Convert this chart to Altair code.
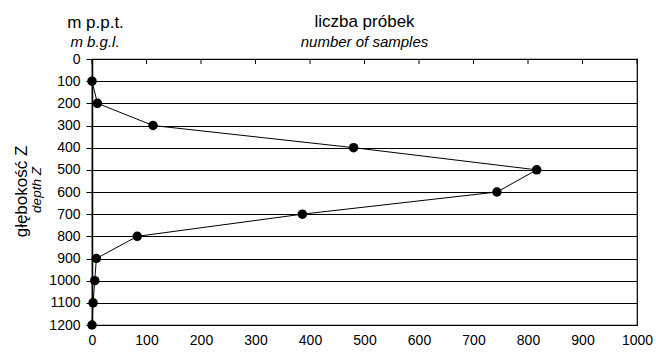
import altair as alt
import pandas as pd

depths = [100, 200, 300, 400, 500, 600, 700, 800, 900, 1000, 1100, 1200]
counts = [0, 10, 112, 480, 816, 743, 386, 83, 8, 5, 2, 0]
x_ticks = list(range(0, 1001, 100))
y_ticks = list(range(0, 1201, 100))

FONT = "Liberation Sans"

df = pd.DataFrame({"depth": depths, "count": counts})
ticks_df = pd.DataFrame({"x": x_ticks})
one = pd.DataFrame({"a": [0]})

xscale = alt.Scale(domain=[0, 1000], nice=False)
yscale = alt.Scale(domain=[0, 1200], reverse=True, nice=False)

xaxis = alt.Axis(orient="bottom", values=x_ticks, ticks=False, domain=False,
                 grid=False, labelPadding=8, labelFontSize=14, labelFont=FONT,
                 labelColor="black", title=None, labelFlush=False,
                 labelOverlap=False, format="d")
yaxis = alt.Axis(values=y_ticks, grid=True, gridColor="black", gridWidth=1,
                 gridOpacity=1, domainColor="black", domainWidth=1.5,
                 tickColor="black", tickSize=6, tickWidth=1, labelPadding=6,
                 labelFontSize=14, labelFont=FONT, labelColor="black",
                 title=None, labelFlush=False, labelOverlap=False, format="d")

base = alt.Chart(df)

line = base.mark_line(color="black", strokeWidth=1).encode(
    x=alt.X("count:Q", scale=xscale, axis=xaxis),
    y=alt.Y("depth:Q", scale=yscale, axis=yaxis),
    order="depth:Q",
)

points = base.mark_circle(color="black", opacity=1, size=90).encode(
    x=alt.X("count:Q", scale=xscale, axis=xaxis),
    y=alt.Y("depth:Q", scale=yscale, axis=yaxis),
)

top_ticks = alt.Chart(ticks_df).mark_rule(color="black", strokeWidth=1).encode(
    x=alt.X("x:Q", scale=xscale, axis=xaxis),
    y=alt.value(0),
    y2=alt.value(5),
)

def label(text, x, y, size, style="normal", angle=0):
    return alt.Chart(one).mark_text(
        text=text, font=FONT, fontSize=size, fontStyle=style, color="black",
        align="center", baseline="middle", angle=angle,
    ).encode(x=alt.value(x), y=alt.value(y))

labels = [
    label("liczba próbek", 272.5, -37.5, 17),
    label("number of samples", 272.5, -17.5, 15, "italic"),
    label("m p.p.t.", 3.5, -36.5, 17),
    label("m b.g.l.", 3.0, -17.5, 15, "italic"),
    label("głębokość Z", -70.5, 132.5, 17, angle=270),
    label("depth Z", -55.5, 131, 13.5, "italic", angle=270),
]

chart = alt.layer(line, points, top_ticks, *labels).properties(
    width=545,
    height=266,
    autosize=alt.AutoSizeParams(type="none"),
    padding={"left": 92, "top": 59, "right": 19, "bottom": 27},
    background="white",
).configure_view(stroke="black", strokeWidth=1.2)

chart.save("out.html", embed_options={"renderer": "svg", "actions": False})
